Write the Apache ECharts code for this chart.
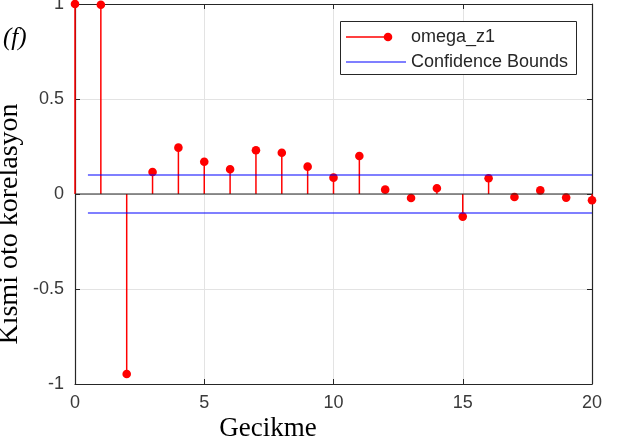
<!DOCTYPE html>
<html>
<head>
<meta charset="utf-8">
<title>Kısmi oto korelasyon</title>
<script src="https://cdn.jsdelivr.net/npm/echarts@6/dist/echarts.min.js"></script>
<style>
  html, body { margin: 0; padding: 0; background: #ffffff; }
  #chart { width: 617px; height: 448px; }
</style>
</head>
<body>
<div id="chart"></div>
<script>
// Partial autocorrelation of omega_z1, lags 0..20
const lags = [0, 1, 2, 3, 4, 5, 6, 7, 8, 9, 10, 11, 12, 13, 14, 15, 16, 17, 18, 19, 20];
const pacf = [1, 0.996, -0.947, 0.116, 0.244, 0.170, 0.130, 0.230, 0.217, 0.144,
              0.086, 0.200, 0.023, -0.021, 0.030, -0.119, 0.083, -0.016, 0.019, -0.019, -0.033];
const confBound = 0.1;          // ± bound
const boundLags = [0.5, 20];    // extent of the bound lines
const seriesName = 'omega_z1';
const boundsName = 'Confidence Bounds';
const xLabel = 'Gecikme';
const yLabel = 'Kısmi oto korelasyon';
const panelTag = '(f)';

const AXIS_COLOR = '#262626';
const LABEL_COLOR = '#3a3a3a';
const GRID_COLOR = '#e3e3e3';
const STEM_COLOR = '#ff0000';
const BOUND_COLOR = '#0000ff';

const stemData = lags.map((l, i) => [l, pacf[i]]);

const chart = echarts.init(document.getElementById('chart'), null, { renderer: 'canvas' });

const tickFont = { fontFamily: 'Liberation Sans, Arial, sans-serif', fontSize: 18, color: LABEL_COLOR };

const option = {
  animation: false,
  backgroundColor: '#ffffff',
  grid: { left: 75, right: 25, top: 4, bottom: 64, containLabel: false, outerBoundsMode: 'none' },
  xAxis: [
    {
      type: 'value', min: 0, max: 20, interval: 5, position: 'bottom',
      axisLine: { show: true, onZero: false, lineStyle: { color: AXIS_COLOR, width: 1.2 } },
      axisTick: { show: true, inside: true, length: 5, lineStyle: { color: AXIS_COLOR } },
      axisLabel: Object.assign({ margin: 10 }, tickFont),
      splitLine: { show: true, lineStyle: { color: GRID_COLOR, width: 1 } }
    },
    {
      type: 'value', min: 0, max: 20, interval: 5, position: 'top',
      axisLine: { show: true, onZero: false, lineStyle: { color: AXIS_COLOR, width: 1.2 } },
      axisTick: { show: true, inside: true, length: 5, lineStyle: { color: AXIS_COLOR } },
      axisLabel: { show: false },
      splitLine: { show: false }
    }
  ],
  yAxis: [
    {
      type: 'value', min: -1, max: 1, interval: 0.5, position: 'left',
      axisLine: { show: true, onZero: false, lineStyle: { color: AXIS_COLOR, width: 1.2 } },
      axisTick: { show: true, inside: true, length: 5, lineStyle: { color: AXIS_COLOR } },
      axisLabel: Object.assign({ margin: 11 }, tickFont),
      splitLine: { show: true, lineStyle: { color: GRID_COLOR, width: 1 } }
    },
    {
      type: 'value', min: -1, max: 1, interval: 0.5, position: 'right',
      axisLine: { show: true, onZero: false, lineStyle: { color: AXIS_COLOR, width: 1.2 } },
      axisTick: { show: true, inside: true, length: 5, lineStyle: { color: AXIS_COLOR } },
      axisLabel: { show: false },
      splitLine: { show: false }
    }
  ],
  series: [
    {
      name: seriesName,
      type: 'custom',
      xAxisIndex: 0, yAxisIndex: 0,
      clip: false,
      z: 3,
      data: stemData,
      renderItem: function (params, api) {
        const x = api.value(0), y = api.value(1);
        const base = api.coord([x, 0]);
        const top = api.coord([x, y]);
        return {
          type: 'group',
          children: [
            { type: 'line', shape: { x1: base[0], y1: base[1], x2: top[0], y2: top[1] },
              style: { stroke: STEM_COLOR, lineWidth: 1.5 } },
            { type: 'circle', shape: { cx: top[0], cy: top[1], r: 4.3 },
              style: { fill: STEM_COLOR } }
          ]
        };
      }
    },
    {
      // stem baseline at zero
      name: 'baseline',
      type: 'line',
      data: [[0, 0], [20, 0]],
      symbol: 'none',
      silent: true,
      z: 4,
      lineStyle: { color: AXIS_COLOR, width: 1.2 }
    },
    {
      name: boundsName,
      type: 'line',
      data: [[boundLags[0], confBound], [boundLags[1], confBound]],
      symbol: 'none',
      z: 5,
      lineStyle: { color: BOUND_COLOR, width: 1.1 }
    },
    {
      name: boundsName,
      type: 'line',
      data: [[boundLags[0], -confBound], [boundLags[1], -confBound]],
      symbol: 'none',
      z: 5,
      lineStyle: { color: BOUND_COLOR, width: 1.1 }
    }
  ],
  graphic: [
    // legend box
    { type: 'rect', left: 340, top: 21, z: 100,
      shape: { width: 236, height: 53 },
      style: { fill: '#ffffff', stroke: AXIS_COLOR, lineWidth: 1 } },
    { type: 'line', z: 101, shape: { x1: 346, y1: 37, x2: 388, y2: 37 },
      style: { stroke: STEM_COLOR, lineWidth: 1.5 } },
    { type: 'circle', z: 101, shape: { cx: 388, cy: 37, r: 4.3 },
      style: { fill: STEM_COLOR } },
    { type: 'text', z: 101, x: 411, y: 37,
      style: { text: seriesName, font: '18px "Liberation Sans", Arial, sans-serif',
               fill: AXIS_COLOR, textAlign: 'left', textVerticalAlign: 'middle' } },
    { type: 'line', z: 101, shape: { x1: 346, y1: 62, x2: 406, y2: 62 },
      style: { stroke: BOUND_COLOR, lineWidth: 1.1 } },
    { type: 'text', z: 101, x: 411, y: 62,
      style: { text: boundsName, font: '18px "Liberation Sans", Arial, sans-serif',
               fill: AXIS_COLOR, textAlign: 'left', textVerticalAlign: 'middle' } },
    // axis titles
    { type: 'text', z: 101, x: 268, y: 429,
      style: { text: xLabel, font: '27px "Liberation Serif", "Times New Roman", serif',
               fill: '#000000', textAlign: 'center', textVerticalAlign: 'middle' } },
    { type: 'text', z: 101, x: 10, y: 224, rotation: Math.PI / 2,
      style: { text: yLabel, font: '28px "Liberation Serif", "Times New Roman", serif',
               fill: '#000000', textAlign: 'center', textVerticalAlign: 'middle' } },
    // panel tag
    { type: 'text', z: 101, x: 3, y: 38,
      style: { text: panelTag, font: 'italic 25px "Liberation Serif", "Times New Roman", serif',
               fill: '#000000', textAlign: 'left', textVerticalAlign: 'middle' } }
  ]
};

chart.setOption(option);
</script>
</body>
</html>
